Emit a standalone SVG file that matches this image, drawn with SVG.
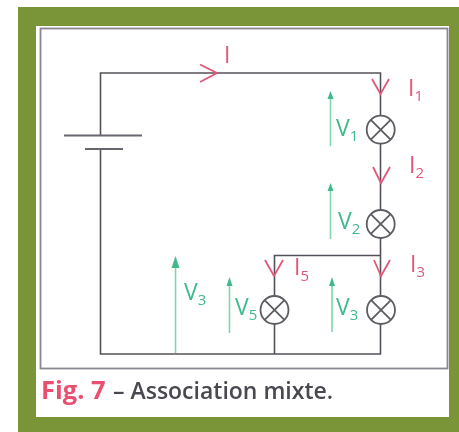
<svg xmlns="http://www.w3.org/2000/svg" width="459" height="432" viewBox="0 0 459 432">
<defs><filter id="soft" x="-5%" y="-5%" width="110%" height="110%"><feGaussianBlur stdDeviation="0.45"/></filter></defs>
<style>
.w{fill:none;stroke:#55505a;stroke-width:1.6}
.f{fill:none;stroke:#8a8690;stroke-width:1.8}
.c{fill:none;stroke:#e2577a;stroke-width:1.8}
.g{fill:none;stroke:#7fd6ab;stroke-width:1.6}
.h{fill:#3fba8a}
.l{fill:none;stroke:#5f5b62;stroke-width:1.8}
.r{font-family:"Open Sans","Noto Sans",sans-serif;font-size:23px;fill:#e2577a}
.v{font-family:"Open Sans","Noto Sans",sans-serif;font-size:23px;fill:#3fba8a}
.s{font-size:15px}
</style>
<rect width="459" height="432" fill="#fff"/>
<g filter="url(#soft)">
<g id="frame">
<rect x="18" y="7" width="441" height="425" fill="#7a9539"/>
<rect x="36" y="26" width="413" height="391" fill="#fff"/>
<rect x="40.500" y="28.500" width="407" height="340" class="f"/>
</g>
<g id="connectors">
<path class="w" d="M100.500 135V73H380.500V115M380.500 144V210M380.500 238V296M380.500 324V354H100.500V149"/>
<path class="w" d="M380.500 255.500H274.500V296M274.500 324V354"/>
</g>
<g id="battery">
<path d="M64 135.500H142M85 149H123" fill="none" stroke="#6b6670" stroke-width="2"/>
</g>
<g id="lamp1"><circle cx="380.700" cy="129.700" r="14" class="l"/><path class="l" d="M370.800 119.800L390.600 139.600M390.600 119.800L370.800 139.600"/></g>
<g id="lamp2"><circle cx="380.700" cy="224" r="14" class="l"/><path class="l" d="M370.800 214.100L390.600 233.900M390.600 214.100L370.800 233.900"/></g>
<g id="lamp3"><circle cx="381" cy="310" r="14" class="l"/><path class="l" d="M371.100 300.100L390.900 319.900M390.900 300.100L371.100 319.900"/></g>
<g id="lamp5"><circle cx="274.500" cy="310" r="14" class="l"/><path class="l" d="M264.600 300.100L284.400 319.900M284.400 300.100L264.600 319.900"/></g>
<g id="currents">
<path class="c" d="M200 64.500L217 73L200 82"/><text x="224" y="63" class="r">I</text>
<path class="c" d="M372 79L380.500 94L389 79"/><text x="408" y="96" class="r">I<tspan class="s" dy="5">1</tspan></text>
<path class="c" d="M373 167L381 183L390 167"/><text x="409" y="173" class="r">I<tspan class="s" dy="5">2</tspan></text>
<path class="c" d="M374 260L381 276L390 260"/><text x="410" y="272" class="r">I<tspan class="s" dy="5">3</tspan></text>
<path class="c" d="M265 260L274 276L283 260"/><text x="294" y="275" class="r">I<tspan class="s" dy="6">5</tspan></text>
</g>
<g id="voltages">
<path class="g" d="M330.500 146V96"/><path class="h" d="M330.500 91L333.500 99H327.500Z"/><text x="336" y="136" class="v">V<tspan class="s" dy="5">1</tspan></text>
<path class="g" d="M330.500 239V188"/><path class="h" d="M330.500 183L333.500 191H327.500Z"/><text x="338" y="229" class="v">V<tspan class="s" dy="5">2</tspan></text>
<path class="g" d="M175.500 353V262"/><path class="h" d="M175.500 256L179.500 268H171.500Z"/><text x="184" y="300" class="v">V<tspan class="s" dy="5">3</tspan></text>
<path class="g" d="M229.500 333V283"/><path class="h" d="M229.500 277L232.500 286H226.500Z"/><text x="235" y="315" class="v">V<tspan class="s" dy="5">5</tspan></text>
<path class="g" d="M332 332V283"/><path class="h" d="M332 277L335 286H329Z"/><text x="336" y="315" class="v">V<tspan class="s" dy="5">3</tspan></text>
</g>
<g id="caption">
<text x="41" y="399" font-family="'Open Sans','Noto Sans',sans-serif" font-size="25.500" font-weight="700" fill="#e8506f">Fig. 7</text>
<text x="113" y="399" font-family="'Open Sans','Noto Sans',sans-serif" font-size="23" font-weight="600" fill="#4a4650">– Association mixte.</text>
</g>
</g>
</svg>
